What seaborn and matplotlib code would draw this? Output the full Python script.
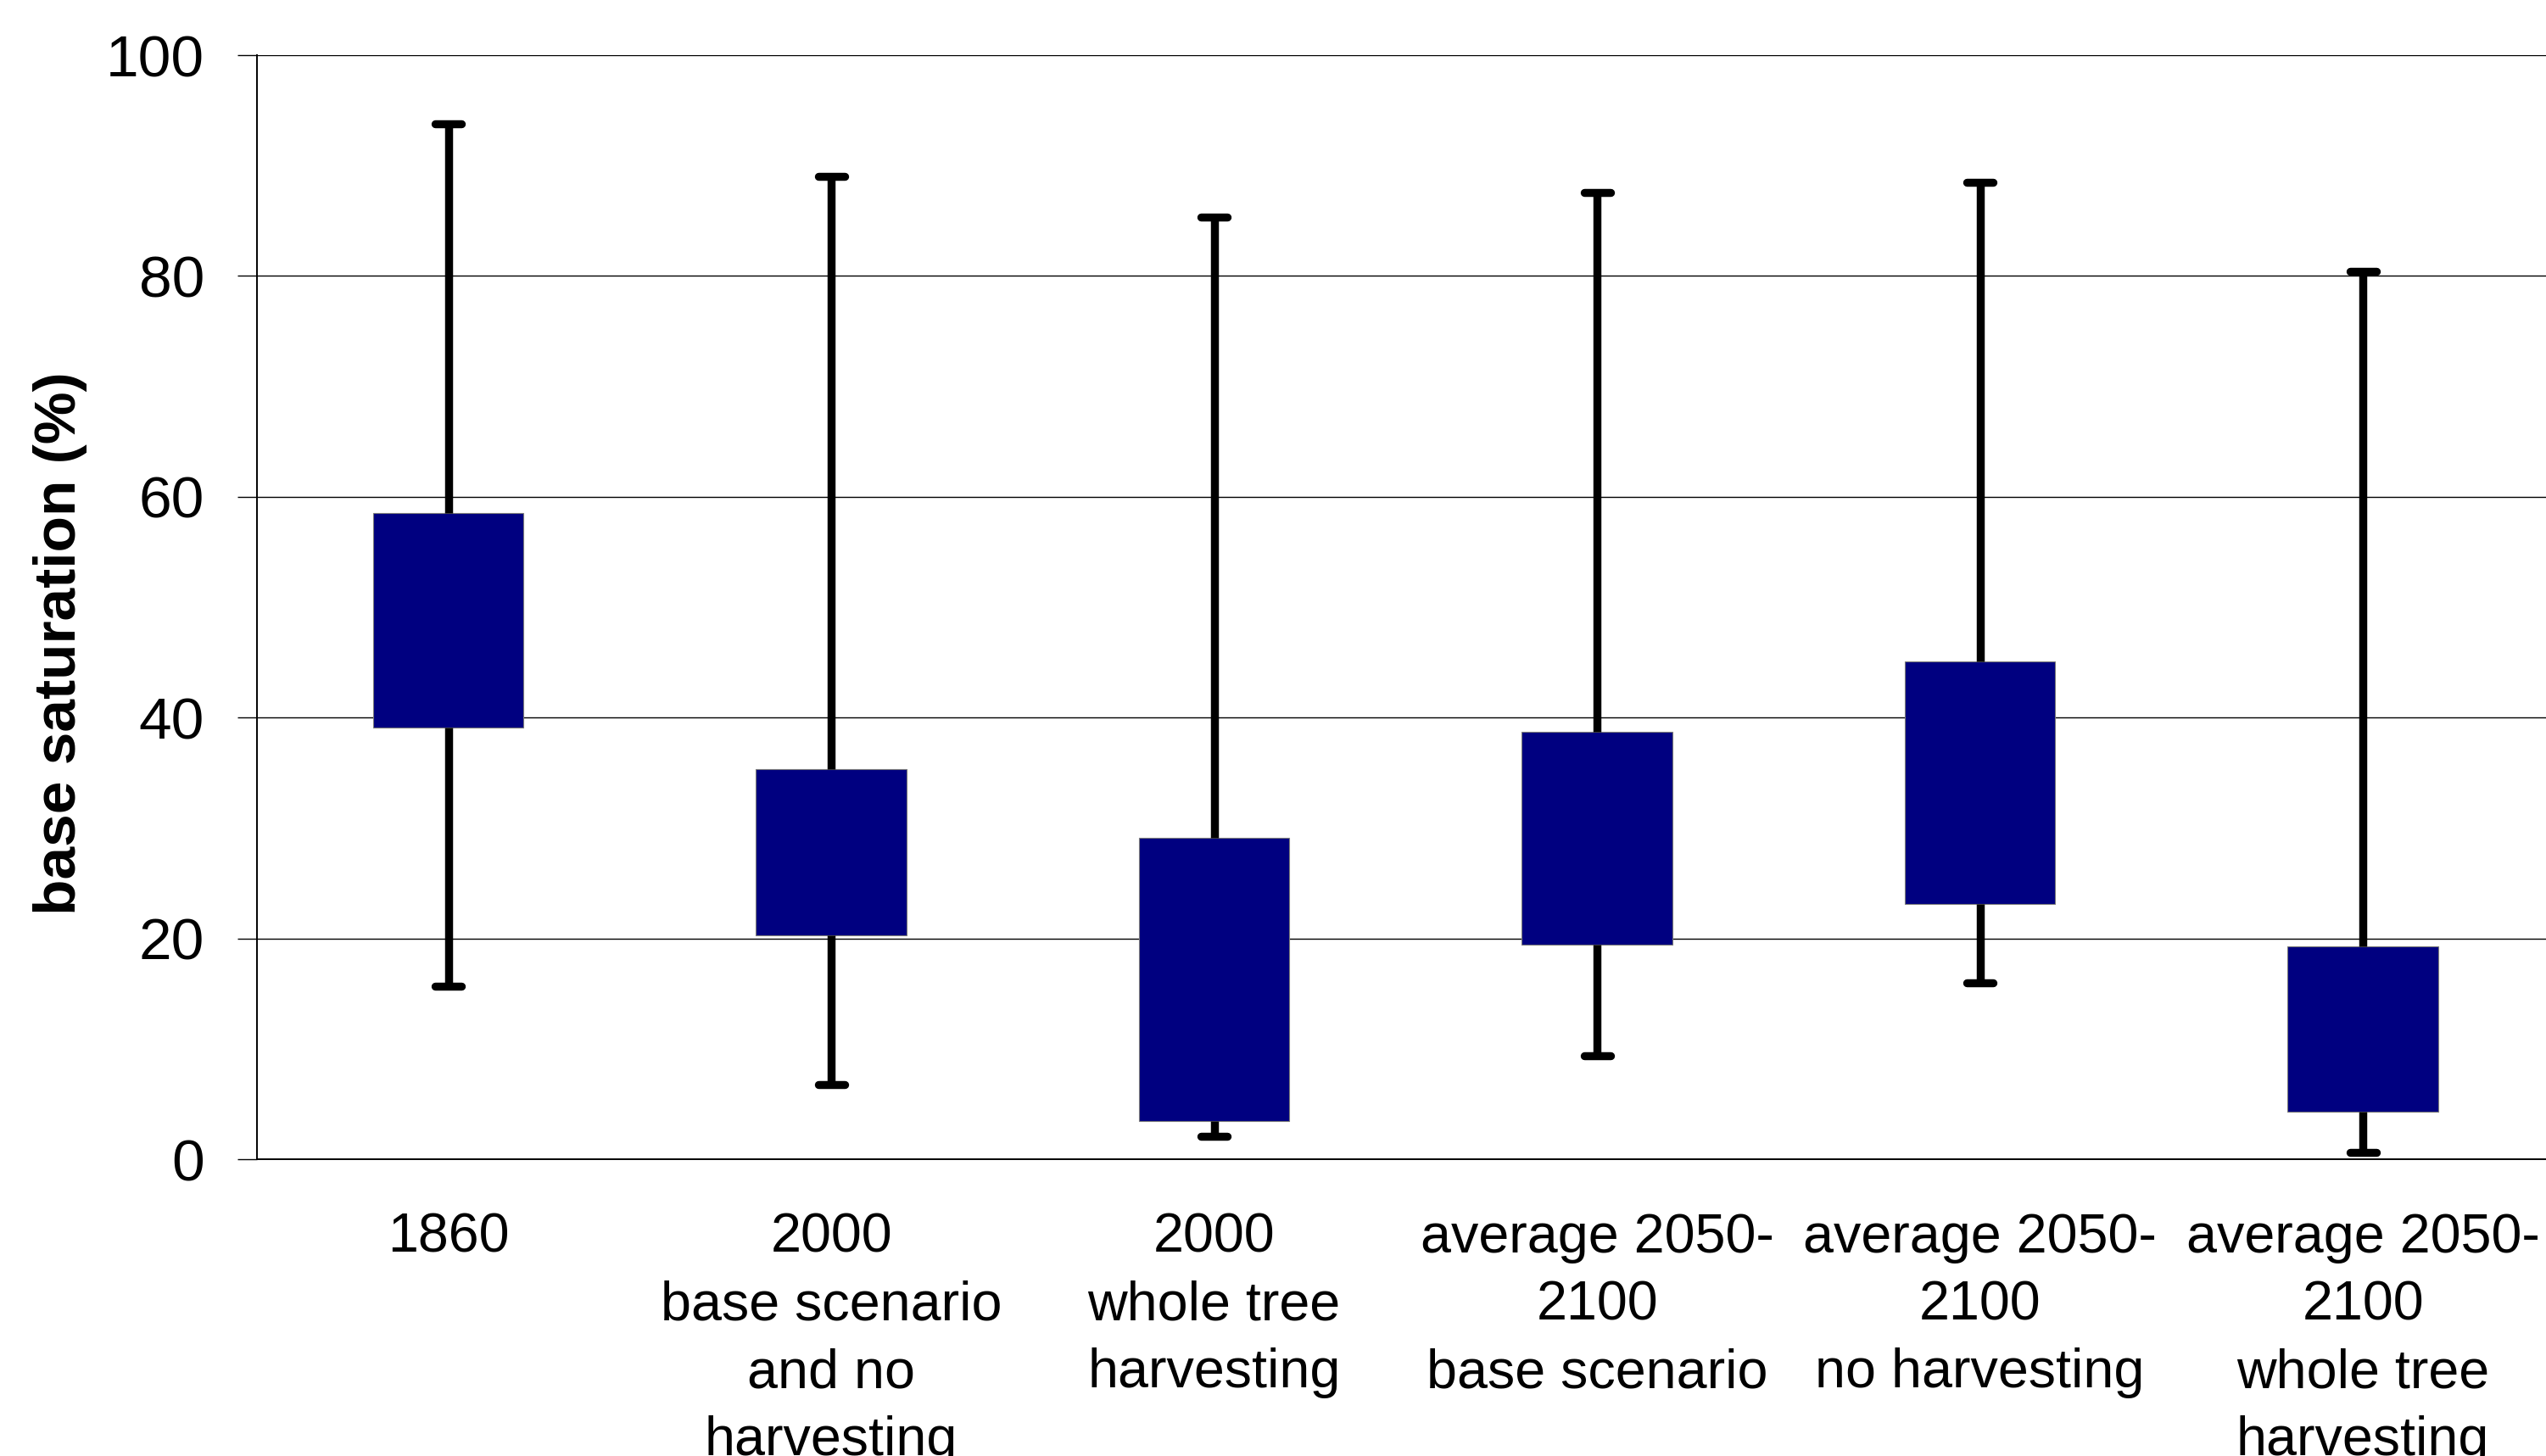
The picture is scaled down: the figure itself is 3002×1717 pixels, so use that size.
import numpy as np
import pandas as pd
import matplotlib
matplotlib.use("Agg")
import matplotlib.pyplot as plt
import seaborn as sns

# ---- data ----
categories = [
    "1860",
    "2000\nbase scenario\nand no\nharvesting",
    "2000\nwhole tree\nharvesting",
    "average 2050-\n2100\nbase scenario",
    "average 2050-\n2100\nno harvesting",
    "average 2050-\n2100\nwhole tree\nharvesting",
]
whisker_low = [15.7, 6.8, 2.1, 9.4, 16.0, 0.6]
box_low = [39.1, 20.3, 3.5, 19.4, 23.1, 4.3]
box_high = [58.5, 35.3, 29.1, 38.7, 45.1, 19.3]
whisker_high = [93.8, 89.0, 85.3, 87.6, 88.5, 80.4]
y_ticks = [0, 20, 40, 60, 80, 100]
y_label = "base saturation (%)"

# five-number rows per category (lower box edge doubles as the hidden median)
rows = []
for c, lo, q1, q3, hi in zip(categories, whisker_low, box_low, box_high, whisker_high):
    for v in (lo, q1, q1, q3, hi):
        rows.append({"category": c, "value": v})
df = pd.DataFrame(rows)

sns.set_theme(style="white")
plt.rcParams["font.family"] = ["Liberation Sans", "DejaVu Sans"]
plt.rcParams["text.color"] = "black"
plt.rcParams["xtick.color"] = "black"
plt.rcParams["ytick.color"] = "black"
plt.rcParams["axes.labelcolor"] = "black"

fig = plt.figure(figsize=(30.02, 17.17), dpi=100)
ax = fig.add_axes([0.1009, 0.2038, 0.9024, 0.7583])

sns.boxplot(
    data=df, x="category", y="value", order=categories,
    color="#000080", saturation=1, width=0.393, whis=(0, 100),
    showfliers=False, ax=ax,
    boxprops={"facecolor": "#000080", "edgecolor": "#7a7a7a", "linewidth": 0.8},
    whiskerprops={"color": "black", "linewidth": 6.8},
    capprops={"color": "black", "linewidth": 6.8},
    medianprops={"linewidth": 0, "visible": False},
    capwidths=0.068,
)

ax.set_xlim(-0.5, 5.5)
ax.set_ylim(0, 100)
ax.set_yticks(y_ticks)
ax.set_yticklabels([str(t) for t in y_ticks], fontsize=50, color="black")
ax.set_xlabel("")
ax.set_ylabel("")

# category boundaries as major ticks, labels on minor ticks at centres
ax.set_xticks(np.arange(-0.5, 6.0, 1.0))
ax.set_xticklabels([])
ax.set_xticks(np.arange(len(categories)), minor=True)
ax.set_xticklabels(categories, minor=True, fontsize=46.5, linespacing=1.42, color="black")
ax.tick_params(axis="x", which="major", direction="inout", length=26, width=1.0, color="black")
ax.tick_params(axis="x", which="minor", length=0, pad=45)
ax.tick_params(axis="y", which="major", direction="out", length=16.5, width=1.0,
               color="black", pad=28, left=True)

ax.set_axisbelow(True)
ax.yaxis.grid(True, color="black", linewidth=1.0)
ax.xaxis.grid(False)
for s in ["top", "right"]:
    ax.spines[s].set_visible(False)
for s in ["left", "bottom"]:
    ax.spines[s].set_visible(True)
    ax.spines[s].set_color("black")
    ax.spines[s].set_linewidth(1.4)

fig.text(71 / 3002, 1 - 759 / 1717, y_label, rotation=90, ha="center", va="center",
         fontsize=50, fontweight="bold", color="black")

fig.savefig("out.png", dpi=100, facecolor="white")
